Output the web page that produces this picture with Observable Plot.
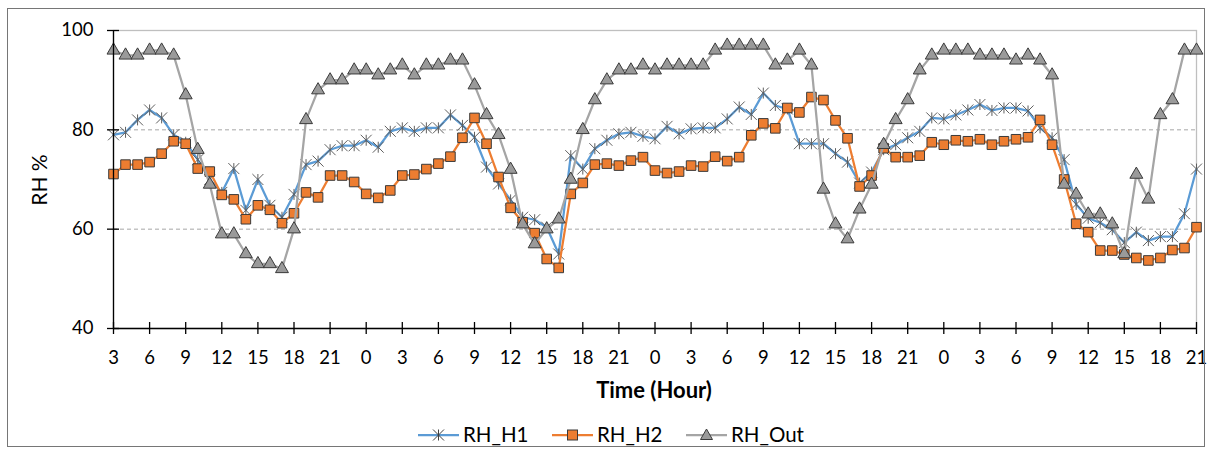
<!DOCTYPE html>
<html>
<head>
<meta charset="utf-8">
<script src="https://cdn.jsdelivr.net/npm/d3@7"></script>
<script src="https://cdn.jsdelivr.net/npm/@observablehq/plot@0.6"></script>
<style>
  html, body { margin: 0; padding: 0; background: #fff; }
  svg { display: block; }
</style>
</head>
<body>
<div id="chart"></div>
<script>
// ---- Data (hourly readings, starting at hour 3 of day 1) ----
const tickLabels = ["3","6","9","12","15","18","21","0","3","6","9","12","15","18","21","0",
                    "3","6","9","12","15","18","21","0","3","6","9","12","15","18","21"];
const yTicks = [40, 60, 80, 100];
const seriesNames = ["RH_H1", "RH_H2", "RH_Out"];

const rhH1 = [
  79, 79.5, 82, 84, 82.4, 79, 77.5, 74, 70, 67.4, 72.2, 63.8, 70, 64.8, 62.4, 67,
  73, 73.7, 76, 76.8, 76.8, 77.9, 76.5, 79.7, 80.4, 79.7, 80.4, 80.4, 83, 80.9, 78.5, 72.5,
  69.1, 65.9, 62.4, 61.9, 60.4, 55, 74.8, 72.1, 76.2, 77.9, 79.2, 79.5, 78.7, 78.2, 80.7, 79.2,
  80.2, 80.4, 80.4, 82.2, 84.6, 83.1, 87.4, 84.9, 84.2, 77.2, 77.2, 77.2, 75.2, 73.5, 69.3, 71.5,
  76, 77, 78.4, 79.7, 82.4, 82.2, 83, 84, 85.1, 83.9, 84.4, 84.4, 83.8, 80.4, 78.4, 74,
  65, 62.2, 61.3, 59.9, 57.3, 59.4, 57.7, 58.5, 58.5, 63.1, 72.1
];
const rhH2 = [
  71.1, 73, 73, 73.5, 75.2, 77.7, 77.2, 72.2, 71.6, 66.9, 66, 62, 64.8, 63.9, 61.2, 63.2,
  67.4, 66.4, 70.8, 70.8, 69.5, 67.1, 66.3, 67.8, 70.8, 71, 72.1, 73.2, 74.6, 78.4, 82.4, 77.2,
  70.5, 64.3, 61.4, 59.2, 54, 52.2, 67.1, 69.3, 73, 73.2, 72.8, 73.8, 74.5, 71.8, 71.3, 71.6,
  72.8, 72.6, 74.6, 73.7, 74.5, 78.9, 81.3, 80.3, 84.4, 83.5, 86.6, 86, 81.9, 78.3, 68.6, 70.8,
  76.3, 74.5, 74.5, 74.8, 77.5, 77, 77.9, 77.7, 78.1, 77, 77.7, 78.1, 78.5, 82, 77, 70,
  61.1, 59.4, 55.7, 55.7, 54.9, 54.2, 53.7, 54.2, 55.8, 56.2, 60.4
];
const rhOut = [
  96, 95, 95, 96, 96, 95, 87, 76, 69, 59, 59, 55, 53, 53, 52, 60,
  82, 88, 90, 90, 92, 92, 91, 92, 93, 91, 93, 93, 94, 94, 89, 83,
  79, 72, 61, 57, 60, 62, 70, 80, 86, 90, 92, 92, 93, 92, 93, 93,
  93, 93, 96, 97, 97, 97, 97, 93, 94, 96, 93, 68, 61, 58, 64, 69,
  77, 82, 86, 92, 95, 96, 96, 96, 95, 95, 95, 94, 95, 94, 91, 69,
  67, 63, 63, 61, 55, 71, 66, 83, 86, 96, 96
];

// ---- Build tables ----
const toRows = vals => vals.map((v, i) => ({t: i, v}));
const h1 = toRows(rhH1), h2 = toRows(rhH2), out = toRows(rhOut);
const xTicks = tickLabels.map((_, k) => k * 3);
const xMax = rhOut.length - 1;

// Excel-like asterisk marker: X plus vertical bar
const starSymbol = {
  draw(ctx, size) {
    const r = Math.sqrt(size / Math.PI);
    ctx.moveTo(-r, -r); ctx.lineTo(r, r);
    ctx.moveTo(-r, r); ctx.lineTo(r, -r);
    ctx.moveTo(0, -r); ctx.lineTo(0, r);
  }
};

const C = {h1: "#5b9bd5", h2: "#ed7d31", out: "#a5a5a5"};
const FONT = "Lato, 'Open Sans', 'Liberation Sans', sans-serif";

const svg = Plot.plot({
  width: 1212,
  height: 450,
  marginLeft: 113,
  marginRight: 16,
  marginTop: 30,
  marginBottom: 122,
  style: {fontFamily: FONT, fontSize: "18px", color: "#000", background: "#fff", overflow: "visible"},
  x: {domain: [0, xMax], label: null},
  y: {domain: [40, 100], label: null},
  marks: [
    Plot.ruleY([80, 60], {stroke: "#a6a6a6", strokeWidth: 1, strokeDasharray: "4,3"}),
    Plot.frame({stroke: "#bfbfbf", strokeWidth: 1.3}),
    // RH_H1
    Plot.lineY(h1, {x: "t", y: "v", stroke: C.h1, strokeWidth: 2.25}),
    Plot.dot(h1, {x: "t", y: "v", symbol: starSymbol, r: 5.5, fill: "none", stroke: "#5f5f5f", strokeWidth: 1}),
    // RH_H2
    Plot.lineY(h2, {x: "t", y: "v", stroke: C.h2, strokeWidth: 2.25}),
    Plot.dot(h2, {x: "t", y: "v", symbol: "square", r: 5.4, fill: C.h2, stroke: "#3a3a3a", strokeWidth: 1}),
    // RH_Out
    Plot.lineY(out, {x: "t", y: "v", stroke: C.out, strokeWidth: 2.25}),
    Plot.dot(out, {x: "t", y: "v", symbol: "triangle", r: 4.8, fill: "#9a9a9a", stroke: "#3a3a3a", strokeWidth: 1}),
    // axis lines
    Plot.ruleX([0], {stroke: "#000", strokeWidth: 1.3}),
    Plot.ruleY([40], {stroke: "#000", strokeWidth: 1.3}),
    // crossing ticks
    Plot.axisY(yTicks, {anchor: "left", tickSize: 12, dx: 6, fill: "none", stroke: "#000", strokeWidth: 1.3, label: null}),
    Plot.axisX(xTicks, {anchor: "bottom", tickSize: 12, dy: -6, fill: "none", stroke: "#000", strokeWidth: 1.3, label: null}),
    // tick labels
    Plot.axisY(yTicks, {anchor: "left", tickSize: 0, tickPadding: 20, fontSize: 18.5, label: null, fill: "#000"}),
    Plot.axisX(xTicks, {anchor: "bottom", tickSize: 0, tickPadding: 22, fontSize: 18.5, label: null, fill: "#000",
                        tickFormat: d => tickLabels[d / 3]})
  ]
});

const s = d3.select(svg);
// Chart border
s.append("rect").attr("x", 7.5).attr("y", 8.5).attr("width", 1197).attr("height", 438)
  .attr("fill", "none").attr("stroke", "#767676").attr("stroke-width", 1);

// Axis titles
s.append("text").attr("transform", "translate(47,180) rotate(-90)")
  .attr("text-anchor", "middle").attr("font-family", FONT).attr("font-size", 21).attr("fill", "#000")
  .text("RH %");
s.append("text").attr("x", 654).attr("y", 398)
  .attr("text-anchor", "middle").attr("font-family", FONT).attr("font-size", 22).attr("font-weight", "bold").attr("fill", "#000")
  .text("Time (Hour)");

// Legend
const legendY = 435;
const legendItems = [
  {name: seriesNames[0], x: 418, color: C.h1, kind: "star"},
  {name: seriesNames[1], x: 552, color: C.h2, kind: "square"},
  {name: seriesNames[2], x: 686, color: C.out, kind: "triangle"}
];
legendItems.forEach(it => {
  const g = s.append("g");
  g.append("line").attr("x1", it.x).attr("x2", it.x + 41).attr("y1", legendY).attr("y2", legendY)
    .attr("stroke", it.color).attr("stroke-width", 2.25);
  const cx = it.x + 20.5;
  if (it.kind === "star") {
    const r = 5.5;
    g.append("path").attr("d", `M${cx-r},${legendY-r}L${cx+r},${legendY+r}M${cx-r},${legendY+r}L${cx+r},${legendY-r}M${cx},${legendY-r}L${cx},${legendY+r}`)
      .attr("stroke", "#404040").attr("fill", "none");
  } else if (it.kind === "square") {
    g.append("rect").attr("x", cx - 5).attr("y", legendY - 5).attr("width", 10).attr("height", 10)
      .attr("fill", C.h2).attr("stroke", "#3a3a3a");
  } else {
    g.append("path").attr("d", `M${cx},${legendY-6}L${cx+6},${legendY+4.5}L${cx-6},${legendY+4.5}Z`)
      .attr("fill", "#9a9a9a").attr("stroke", "#3a3a3a");
  }
  g.append("text").attr("x", it.x + 45).attr("y", legendY + 7).attr("text-anchor", "start")
    .attr("font-family", FONT).attr("font-size", 20.5).attr("fill", "#000").text(it.name);
});

document.getElementById("chart").appendChild(svg);
</script>
</body>
</html>
